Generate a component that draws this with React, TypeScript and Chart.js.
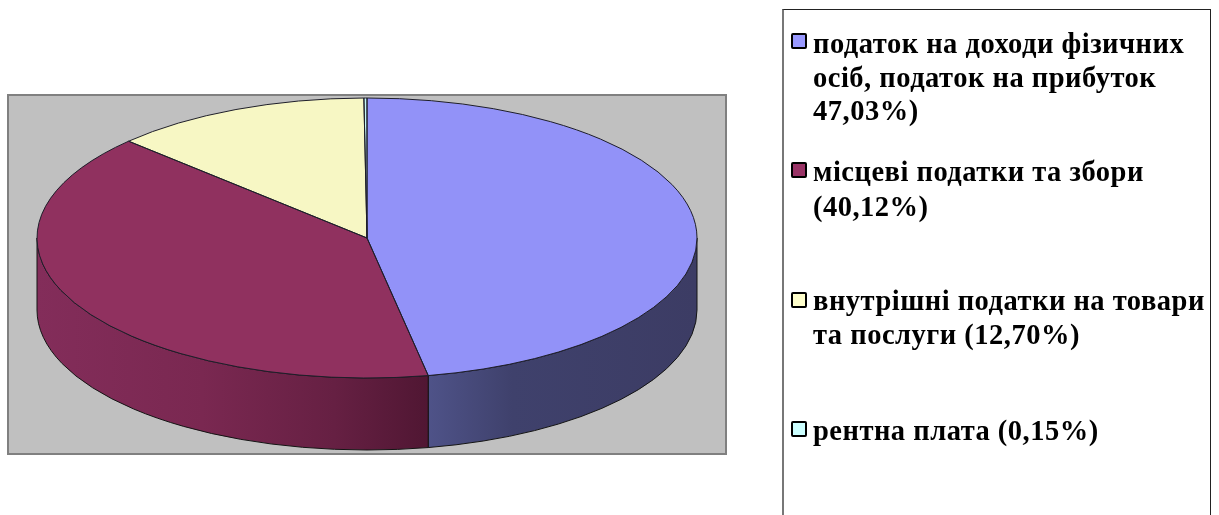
import React, { useEffect, useRef } from "react";
import { Chart, registerables } from "chart.js";

Chart.register(...registerables);

const legendLines: string[][] = [
  ["податок на доходи фізичних", "осіб, податок на прибуток", "47,03%)"],
  ["місцеві податки та збори", "(40,12%)"],
  ["внутрішні податки на товари", "та послуги (12,70%)"],
  ["рентна плата (0,15%)"],
];
const shares = [47.03, 40.12, 12.7, 0.15];
const topColors = ["#9292F8", "#90315F", "#F7F7C4", "#C6F7F7"];
const swatchColors = ["#9999FF", "#993366", "#FFFFCC", "#CCFFFF"];
const lineBaselines = [[53, 87, 120], [181, 216], [310, 344], [440]];
const swatchTops = [33, 162, 292, 421];
const wallStops: [number, string][][] = [
  [[0.59, "#4F5389"], [0.72, "#3F416C"], [1, "#3C3C64"]],
  [[0, "#832D5A"], [0.25, "#7A2851"], [0.45, "#662043"], [0.6, "#4F1632"]],
  [[0, "#8A8A6E"], [1, "#8A8A6E"]],
  [[0, "#6E8A8A"], [1, "#6E8A8A"]],
];

const RX = 330;
const RY = 140;
const DEPTH = 72;

const pie3d = {
  id: "pie3d",
  beforeDatasetsDraw(chart: any) {
    const ctx: CanvasRenderingContext2D = chart.ctx;
    ctx.save();
    ctx.fillStyle = "#C0C0C0";
    ctx.strokeStyle = "#808080";
    ctx.lineWidth = 2;
    ctx.fillRect(8, 95, 718, 359);
    ctx.strokeRect(8, 95, 718, 359);

    const arcs = chart.getDatasetMeta(0).data;
    const { x: cx, y: cy } = arcs[0];
    arcs.forEach((arc: any, i: number) => {
      const a0 = Math.max(arc.startAngle, 0);
      const a1 = Math.min(arc.endAngle, Math.PI);
      if (a1 <= a0) return;
      const g = ctx.createLinearGradient(cx - RX, 0, cx + RX, 0);
      wallStops[i].forEach(([p, c]) => g.addColorStop(p, c));
      ctx.beginPath();
      ctx.ellipse(cx, cy, RX, RY, 0, a0, a1);
      ctx.ellipse(cx, cy + DEPTH, RX, RY, 0, a1, a0, true);
      ctx.closePath();
      ctx.fillStyle = g;
      ctx.fill();
      ctx.strokeStyle = "#141414";
      ctx.lineWidth = 1;
      ctx.stroke();
    });
    ctx.restore();

    // Flatten the library's circular arcs into the tilted top face.
    const r = arcs[0].outerRadius;
    ctx.save();
    ctx.translate(cx, cy);
    ctx.scale(RX / r, RY / r);
    ctx.translate(-cx, -cy);
  },
  afterDatasetsDraw(chart: any) {
    const ctx: CanvasRenderingContext2D = chart.ctx;
    ctx.restore();
    const arcs = chart.getDatasetMeta(0).data;
    ctx.save();
    ctx.strokeStyle = "#1E1E2A";
    ctx.lineWidth = 1;
    arcs.forEach((arc: any) => {
      ctx.beginPath();
      ctx.moveTo(arc.x, arc.y);
      ctx.ellipse(arc.x, arc.y, RX, RY, 0, arc.startAngle, arc.endAngle);
      ctx.closePath();
      ctx.stroke();
    });
    ctx.restore();
  },
};

export default function App() {
  const ref = useRef<HTMLCanvasElement>(null);
  useEffect(() => {
    const chart = new Chart(ref.current!, {
      type: "pie",
      data: {
        labels: legendLines.map((l) => l.join(" ")),
        datasets: [
          {
            data: shares,
            backgroundColor: topColors,
            borderWidth: 0,
            clip: false,
          } as any,
        ],
      },
      options: {
        responsive: false,
        animation: false,
        layout: { padding: { left: 37, right: 522, top: 98, bottom: 137 } },
        plugins: { legend: { display: false }, tooltip: { enabled: false } },
      },
      plugins: [pie3d],
    });
    return () => chart.destroy();
  }, []);

  return (
    <div style={{ position: "absolute", left: 0, top: 0, width: 1219, height: 515, overflow: "hidden", background: "#fff" }}>
      <canvas ref={ref} width={1219} height={515} style={{ position: "absolute", left: 0, top: 0 }} />
      <div
        style={{
          position: "absolute",
          left: 782,
          top: 9,
          width: 426,
          height: 520,
          boxSizing: "content-box",
          borderTop: "1px solid #222",
          borderRight: "1px solid #222",
          borderLeft: "2px solid #777",
        }}
      />
      {legendLines.map((lines, i) => (
        <React.Fragment key={i}>
          <div
            style={{
              position: "absolute",
              left: 791,
              top: swatchTops[i],
              width: 12,
              height: 12,
              background: swatchColors[i],
              border: "2px solid #000",
              borderRadius: 2,
            }}
          />
          {lines.map((t, j) => (
            <div
              key={j}
              style={{
                position: "absolute",
                left: 813,
                top: lineBaselines[i][j] - 25,
                height: 31,
                lineHeight: "31px",
                whiteSpace: "nowrap",
                font: "bold 28.5px 'Liberation Serif'",
                letterSpacing: "0.5px",
                color: "#000",
              }}
            >
              {t}
            </div>
          ))}
        </React.Fragment>
      ))}
    </div>
  );
}
